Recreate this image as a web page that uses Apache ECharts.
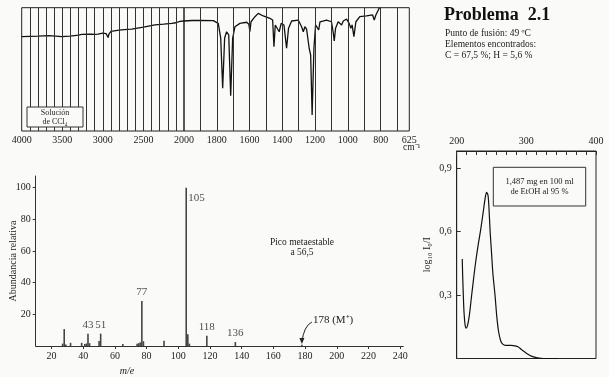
<!DOCTYPE html>
<html><head><meta charset="utf-8">
<script src="https://cdn.jsdelivr.net/npm/echarts@6/dist/echarts.min.js"></script>
<style>html,body{margin:0;padding:0;background:#fafaf8}#c{width:609px;height:377px}</style>
</head><body><div id="c"></div>
<script>
// ---------- IR spectrum ----------
const irWavenumber = [4000,3900,3800,3672,3580,3507,3405,3300,3261,3150,3100,3076,3060,3000,2960,2945,2935,2925,2900,2800,2700,2645,2500,2358,2250,2152,2100,2050,2000,
  1950,1902,1821,1791,1776,1764,1752,1740,1727,1715,1703,1689,1659,1618,1604,1598,1591,1567,1547,1516,1476,1459,1451,1443,1431,1419,1407,1390,1374,1362,1343,1303,1282,1272,1262,1252,1236,1227,1218,1207,1197,1187,1178,1170,1130,1100,1090,1083,1075,1059,1038,1028,1008,992,982,974,963,951,927,886,849,839,829,809,805];
const irTransmittance = [76.5,76.8,77.0,77.3,77.0,76.5,77.0,77.8,78.4,78.6,78.4,77.0,78.6,79.3,79.0,77.5,75.8,78.5,80.8,81.8,82.5,82.7,84.2,86.0,86.6,87.3,87.8,88.9,89.2,
  89.6,89.8,89.5,87.3,75.4,34.6,75.4,80.5,77.9,28.6,75.4,84.6,87.3,88.2,86.5,80.5,88.6,92.7,95.4,93.3,91.4,90.0,68.4,86.0,84.6,80.5,87.3,86.0,67.1,83.3,89.2,90.0,84.6,80.5,84.6,82.7,67.1,61.6,13.0,67.1,86.0,87.3,81.9,88.6,90.0,88.6,80.5,73.0,83.3,88.6,86.0,89.2,90.8,87.3,83.3,86.0,76.5,88.6,92.7,93.3,94.1,90.0,94.1,99.5,100];
const irGridLines = [3900,3800,3700,3600,3500,3400,3300,3200,3100,3000,2900,2800,2700,2600,2500,2400,2300,2200,2100,
  1900,1800,1700,1600,1500,1400,1300,1200,1100,1000,900,800,700];
const irLabelsHigh = [4000,3500,3000,2500,2000];
const irLabelsLow = [1800,1600,1400,1200,1000,800,625];

// ---------- Mass spectrum ----------
const msMass =      [27, 28,  29, 32, 39, 41, 42, 43, 44, 50, 51, 65, 74, 75, 76, 77,  78, 91, 105, 106, 107, 118, 136, 178];
const msAbundance = [1.5,10.7,1.0,2.0,2.0,1.2,1.6,7.8,1.8,3.2,7.8,1.3,1.5,1.8,2.3,28.5,3.0,3.3,100, 7.4, 1.5, 6.5, 2.5, 0.8];
const msPeakLabels = [43,51,77,105,118,136];
const msTicks = [20,40,60,80,100,120,140,160,180,200,220,240];
const msYTicks = [20,40,60,80,100];

// ---------- UV spectrum ----------
const uvWavelength = [208,208.5,209.5,210.5,212,213.5,215.5,218,221.5,224,227,231,234.5,238,241,243,245,246.5,248,250,252,255,257.5,260,263,266,270,278,284,288,293,300,308,316,325,345];
const uvAbsorbance = [0.47,0.40,0.30,0.22,0.16,0.143,0.155,0.20,0.30,0.37,0.45,0.54,0.61,0.69,0.76,0.785,0.77,0.70,0.60,0.50,0.40,0.30,0.20,0.13,0.085,0.068,0.062,0.062,0.060,0.055,0.042,0.025,0.010,0.003,0,0];
const uvTickStep = 200/14;
const uvLabels = [200,300,400];
const uvYLabels = [0.3,0.6,0.9];

const SERIF = "'Liberation Serif','DejaVu Serif',serif";
const INK = '#222';

const irHigh = [], irLow = [];
irWavenumber.forEach((w,i)=>{ if(w>=2000) irHigh.push([w,irTransmittance[i]]); if(w<=2000) irLow.push([w,irTransmittance[i]]); });
const ml = (vals)=>({silent:true,symbol:['none','none'],label:{show:false},animation:false,
  lineStyle:{color:'#333',width:1,type:'solid'},emphasis:{disabled:true},data:vals.map(v=>({xAxis:v}))});
const pick = (list, fmt)=> (v)=>{ const hit = list.find(t=>Math.abs(t-v)<1e-6*Math.max(1,Math.abs(t))); return hit===undefined?'':fmt(hit); };

const chart = echarts.init(document.getElementById('c'), null, {renderer:'canvas'});
const lbl = {fontFamily:SERIF,color:INK,fontSize:10};
const G = {outerBoundsMode:'none', containLabel:false};

const option = {
  animation:false,
  backgroundColor:'#fafaf8',
  grid:[
    Object.assign({left:21.7, top:7.7, width:162.3, height:123.3, show:true, borderColor:'#222', borderWidth:1},G),
    Object.assign({left:184, top:7.7, width:225.3, height:123.3, show:true, borderColor:'#222', borderWidth:1},G),
    Object.assign({left:35.7, top:176, width:367.6, height:170},G),
    Object.assign({left:456.7, top:151, width:139.3, height:207.5, show:true, borderColor:'#222', borderWidth:1},G)
  ],
  xAxis:[
    {gridIndex:0,type:'value',min:2000,max:4000,inverse:true,axisLine:{show:false,onZero:false},axisTick:{show:false},splitLine:{show:false},
      axisLabel:Object.assign({},lbl,{customValues:irLabelsHigh,margin:4,fontSize:10,formatter:v=>String(v)})},
    {gridIndex:1,type:'value',min:625,max:2000,inverse:true,axisLine:{show:false,onZero:false},axisTick:{show:false},splitLine:{show:false},
      axisLabel:Object.assign({},lbl,{customValues:irLabelsLow,margin:4,fontSize:10,formatter:v=>String(v)})},
    {gridIndex:2,type:'value',min:10,max:242,axisLine:{show:true,onZero:false,lineStyle:{color:'#333',width:1}},
      axisTick:{show:true,customValues:msTicks,length:3,lineStyle:{color:'#333'}},splitLine:{show:false},
      axisLabel:Object.assign({},lbl,{customValues:msTicks,margin:5})},
    {gridIndex:3,type:'value',position:'top',min:200,max:400,interval:uvTickStep,axisLine:{show:true,onZero:false,lineStyle:{color:'#222',width:1}},
      axisTick:{show:true,inside:true,length:4,lineStyle:{color:'#333',width:1}},splitLine:{show:false},
      axisLabel:Object.assign({},lbl,{margin:5,formatter:pick(uvLabels,String)})}
  ],
  yAxis:[
    {gridIndex:0,type:'value',min:0,max:100,show:false,splitLine:{show:false}},
    {gridIndex:1,type:'value',min:0,max:100,show:false,splitLine:{show:false}},
    {gridIndex:2,type:'value',min:0,max:107.4,axisLine:{show:true,onZero:false,lineStyle:{color:'#333',width:1}},
      axisTick:{show:true,customValues:msYTicks,length:3,lineStyle:{color:'#333'}},splitLine:{show:false},
      axisLabel:Object.assign({},lbl,{customValues:msYTicks,margin:5}),
      name:'Abundancia relativa',nameLocation:'middle',nameGap:17,nameRotate:90,nameMoveOverlap:false,
      nameTextStyle:{fontFamily:SERIF,color:INK,fontSize:10}},
    {gridIndex:3,type:'value',min:0,max:0.98,interval:0.3,axisLine:{show:true,onZero:false,lineStyle:{color:'#222',width:1}},
      axisTick:{show:true,inside:true,length:4,lineStyle:{color:'#333'}},splitLine:{show:false},
      axisLabel:Object.assign({},lbl,{margin:5,showMaxLabel:false,formatter:pick(uvYLabels,v=>v.toFixed(1).replace('.',','))}),
      name:'log\u2081\u2080 I\u2080/I',nameLocation:'middle',nameGap:24,nameRotate:90,
      nameTextStyle:{fontFamily:SERIF,color:INK,fontSize:10}}
  ],
  series:[
    {type:'line',xAxisIndex:0,yAxisIndex:0,data:irHigh,symbol:'none',lineStyle:{color:'#111',width:1.3},markLine:ml(irGridLines.filter(v=>v>2000&&v<4000)),z:3},
    {type:'line',xAxisIndex:1,yAxisIndex:1,data:irLow,symbol:'none',lineStyle:{color:'#111',width:1.3},markLine:ml(irGridLines.filter(v=>v<2000&&v>625)),z:3},
    {type:'bar',xAxisIndex:2,yAxisIndex:2,data:msMass.map((m,i)=>[m,msAbundance[i]]),barWidth:1.6,itemStyle:{color:'#444'},z:3},
    {type:'scatter',xAxisIndex:2,yAxisIndex:2,symbolSize:0,silent:true,
      data:msPeakLabels.map(m=>{const v=msAbundance[msMass.indexOf(m)];
        return m===105?{value:[m,v],label:{position:'right',offset:[-1,10]}}:{value:[m,v],label:{position:'top'}};}),
      label:{show:true,formatter:p=>String(p.value[0]),fontFamily:SERIF,color:INK,fontSize:11,distance:3}},
    {type:'line',xAxisIndex:3,yAxisIndex:3,data:uvWavelength.map((w,i)=>[w,uvAbsorbance[i]]),symbol:'none',smooth:0.3,lineStyle:{color:'#111',width:1.2}}
  ],
  graphic:[
    {type:'rect',z:100,zlevel:1,shape:{x:27,y:107,width:56,height:20},style:{fill:'#fafaf8',stroke:'#333',lineWidth:1}},
    {type:'text',z:101,zlevel:1,x:55,y:117,style:{text:'Solución\nde CCl\u2084',font:"8px 'Liberation Serif'",fill:INK,align:'center',verticalAlign:'middle',lineHeight:9}},
    {type:'text',left:403,top:142,style:{text:'cm\u207B\u00B9',font:"9.5px 'Liberation Serif'",fill:INK}},
    {type:'text',left:444,top:6,style:{text:'Problema  2.1',font:"bold 18px 'Liberation Serif'",fill:'#111'}},
    {type:'text',left:445,top:28,style:{text:'Punto de fusión: 49 ºC\nElementos encontrados:\nC = 67,5 %; H = 5,6 %',font:"9.5px 'Liberation Serif'",fill:INK,lineHeight:11}},
    {type:'text',x:302,y:247,style:{text:'Pico metaestable\na 56,5',font:"9.5px 'Liberation Serif'",fill:INK,align:'center',verticalAlign:'middle',lineHeight:10}},
    {type:'text',x:127,y:371,style:{text:'m/e',font:"italic 10px 'Liberation Serif'",fill:INK,align:'center',verticalAlign:'middle'}},
    {type:'rect',shape:{x:493.3,y:167.3,width:92.4,height:38.7},style:{fill:'none',stroke:'#333',lineWidth:1}},
    {type:'text',x:539.5,y:186.7,style:{text:'1,487 mg en 100 ml\nde EtOH al 95 %',font:"8.5px 'Liberation Serif'",fill:INK,align:'center',verticalAlign:'middle',lineHeight:10}}
  ]
};
chart.setOption(option);

// Molecular ion annotation anchored to the m/e = 178 peak
const p = chart.convertToPixel({xAxisIndex:2,yAxisIndex:2},[178,0]);
chart.setOption({graphic:[
  {id:'m178t',type:'text',x:p[0]+11,y:p[1]-26,style:{text:'178 (M\u207A)',font:"11px 'Liberation Serif'",fill:INK,verticalAlign:'middle'}},
  {id:'m178a',type:'bezierCurve',shape:{x1:p[0]+10,y1:p[1]-24,x2:p[0],y2:p[1]-4,cpx1:p[0]+2,cpy1:p[1]-20},style:{stroke:'#222',lineWidth:1,fill:'none'}},
  {id:'m178h',type:'polygon',shape:{points:[[p[0],p[1]-2],[p[0]-2.5,p[1]-8],[p[0]+2.5,p[1]-8]]},style:{fill:'#222'}}
]});
</script>
</body></html>
